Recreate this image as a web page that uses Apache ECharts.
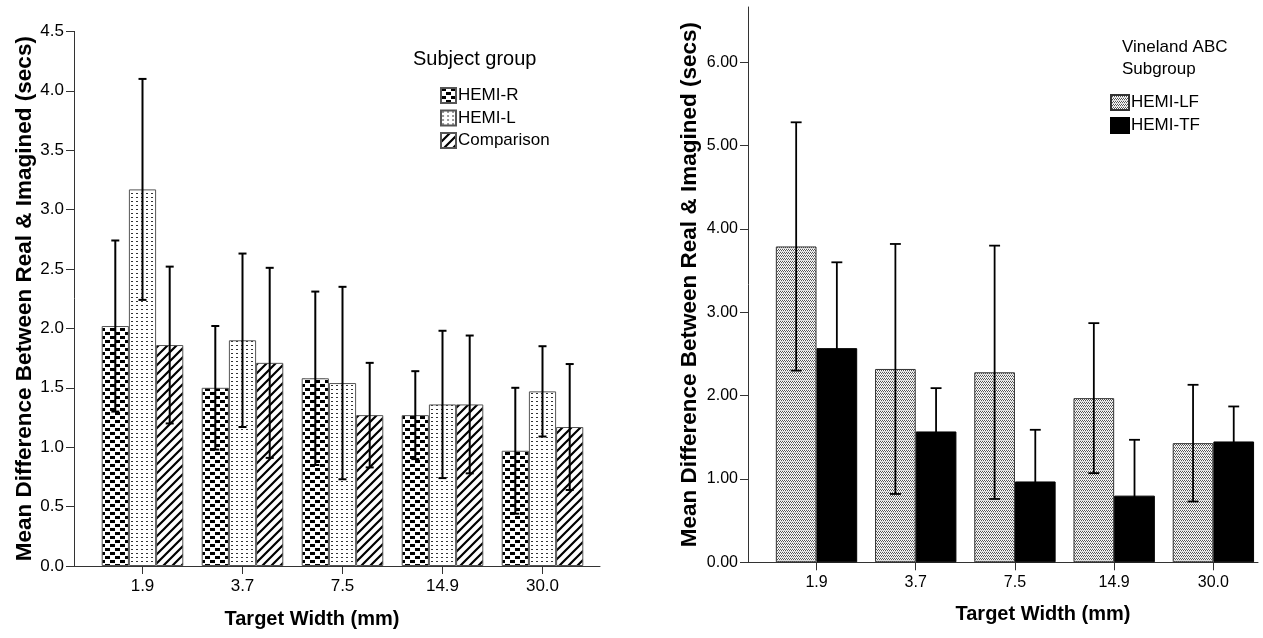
<!DOCTYPE html>
<html>
<head>
<meta charset="utf-8">
<script src="https://cdn.jsdelivr.net/npm/echarts@6/dist/echarts.min.js"></script>
<style>html,body{margin:0;padding:0;background:#fff}#c{width:1263px;height:638px}</style>
</head>
<body>
<div id="c"></div>
<script>
// ---- data ----
const categories = ['1.9', '3.7', '7.5', '14.9', '30.0'];
// Left panel: Subject group
const hemiR = [2.02, 1.50, 1.58, 1.27, 0.97];
const hemiRErr = [0.72, 0.52, 0.73, 0.37, 0.53];
const hemiL = [3.17, 1.90, 1.54, 1.36, 1.47];
const hemiLErr = [0.93, 0.73, 0.81, 0.62, 0.38];
const comparison = [1.86, 1.71, 1.27, 1.36, 1.17];
const comparisonErr = [0.66, 0.80, 0.44, 0.58, 0.53];
// Right panel: Vineland ABC Subgroup
const hemiLF = [3.79, 2.32, 2.28, 1.97, 1.43];
const hemiLFErr = [1.49, 1.50, 1.52, 0.90, 0.70];
const hemiTF = [2.57, 1.57, 0.97, 0.80, 1.45];
const hemiTFErr = [1.03, 0.52, 0.62, 0.67, 0.42];

const FONT = "'Liberation Sans', Arial, sans-serif";

// ---- patterns ----
function tile(w, h, draw) {
  const c = document.createElement('canvas');
  c.width = w; c.height = h;
  const g = c.getContext('2d');
  g.fillStyle = '#fff'; g.fillRect(0, 0, w, h);
  draw(g);
  return { image: c, repeat: 'repeat' };
}
const patChecker = tile(10, 8, g => {
  g.fillStyle = '#000';
  g.fillRect(0, 0, 5, 4); g.fillRect(5, 4, 5, 4);
  g.fillStyle = '#fff';
  g.fillRect(0, 3, 5, 1); g.fillRect(5, 7, 5, 1);
});
const patDots = tile(5, 4, g => {
  g.fillStyle = '#333'; g.fillRect(1, 1, 2, 1);
});
const patHatch = tile(9, 9, g => {
  g.strokeStyle = '#000'; g.lineWidth = 2.2;
  g.beginPath();
  g.moveTo(-1, 10); g.lineTo(10, -1);
  g.moveTo(-5, 5); g.lineTo(5, -5);
  g.moveTo(4, 14); g.lineTo(14, 4);
  g.stroke();
});
const patStipple = tile(4, 3, g => {
  g.fillStyle = '#555';
  g.fillRect(0, 0, 1, 1); g.fillRect(2, 0, 1, 1);
  g.fillRect(1, 1, 1, 1); g.fillRect(3, 1, 1, 1);
  g.fillStyle = '#ddd';
  g.fillRect(0, 2, 4, 1);
});

// ---- error bar custom series ----
function errSeries(xi, yi, means, errs, idx, n, frac, capFrac, lw) {
  return {
    type: 'custom', xAxisIndex: xi, yAxisIndex: yi, z: 10, silent: true,
    data: means.map((m, i) => [i, m, errs[i]]),
    renderItem: function (params, api) {
      const ci = api.value(0), m = api.value(1), e = api.value(2);
      const band = api.size([1, 0])[0];
      const off = (idx - (n - 1) / 2) * frac * band;
      const hi = api.coord([ci, m + e]);
      const lo = api.coord([ci, m - e]);
      const x = hi[0] + off;
      const cap = capFrac * band;
      const st = { stroke: '#000', lineWidth: lw };
      return {
        type: 'group', children: [
          { type: 'line', shape: { x1: x, y1: hi[1], x2: x, y2: lo[1] }, style: st },
          { type: 'line', shape: { x1: x - cap, y1: hi[1], x2: x + cap, y2: hi[1] }, style: st },
          { type: 'line', shape: { x1: x - cap, y1: lo[1], x2: x + cap, y2: lo[1] }, style: st }
        ]
      };
    }
  };
}

const axisCol = '#333';
const frameX = (gi) => ({
  gridIndex: gi, type: 'value', min: 0, max: 1,
  axisLine: { show: true, lineStyle: { color: axisCol, width: 1 } },
  axisTick: { show: false }, axisLabel: { show: false }, splitLine: { show: false }
});
const frameY = (gi, gap) => ({
  gridIndex: gi, type: 'value', min: 0, max: 1,
  axisLine: { show: true, lineStyle: { color: axisCol, width: 1 } },
  axisTick: { show: false }, axisLabel: { show: false }, splitLine: { show: false },
  name: 'Mean Difference Between Real & Imagined (secs)',
  nameLocation: 'middle', nameGap: gap,
  nameTextStyle: { fontFamily: FONT, fontWeight: 'bold', fontSize: 22.5, color: '#000' }
});
const catX = (gi, fs) => ({
  gridIndex: gi, type: 'category', data: categories,
  axisLine: { show: false },
  axisTick: { show: true, alignWithLabel: true, length: 8, lineStyle: { color: axisCol } },
  axisLabel: { fontFamily: FONT, fontSize: fs, color: '#000', margin: 12 },
  splitLine: { show: false }
});
const valY = (gi, max, interval, dec, offset, fs) => ({
  gridIndex: gi, type: 'value', min: 0, max: max, interval: interval, offset: offset,
  axisLine: { show: false },
  axisTick: { show: true, length: 8, lineStyle: { color: axisCol } },
  axisLabel: { fontFamily: FONT, fontSize: fs, color: '#000', margin: 10, formatter: v => v.toFixed(dec) },
  splitLine: { show: false }
});

const leftBar = (name, data, pat) => ({
  type: 'bar', name: name, xAxisIndex: 1, yAxisIndex: 1, data: data,
  barWidth: '27.2%', barGap: '0%',
  itemStyle: { color: pat, borderColor: '#555', borderWidth: 1 }
});
const rightBar = (name, data, col, bc) => ({
  type: 'bar', name: name, xAxisIndex: 3, yAxisIndex: 3, data: data,
  barWidth: '41%', barGap: '0%',
  itemStyle: { color: col, borderColor: bc, borderWidth: 1 }
});

const option = {
  animation: false,
  backgroundColor: '#fff',
  textStyle: { fontFamily: FONT },
  grid: [
    { left: 74, top: 31.4, width: 526, height: 534.6 },
    { left: 92.5, top: 31.4, width: 500, height: 534.6 },
    { left: 748, top: 7, width: 510, height: 555.3 },
    { left: 766.9, top: 62.3, width: 498.5, height: 500 }
  ],
  xAxis: [frameX(0), catX(1, 17), frameX(2), catX(3, 16)],
  yAxis: [frameY(0, 38), valY(1, 4.5, 0.5, 1, 18.5, 17), frameY(2, 47), valY(3, 6, 1, 2, 18.9, 16)],
  title: [
    { text: 'Target Width (mm)', left: 307, top: 604, textAlign: 'center',
      textStyle: { fontFamily: FONT, fontWeight: 'bold', fontSize: 20, color: '#000' } },
    { text: 'Target Width (mm)', left: 1038, top: 599, textAlign: 'center',
      textStyle: { fontFamily: FONT, fontWeight: 'bold', fontSize: 20, color: '#000' } },
    { text: 'Subject group', left: 408, top: 44,
      textStyle: { fontFamily: FONT, fontWeight: 'normal', fontSize: 20, color: '#000' } },
    { text: 'Vineland ABC\nSubgroup', left: 1117, top: 31,
      textStyle: { fontFamily: FONT, fontWeight: 'normal', fontSize: 17, lineHeight: 22, color: '#000' } }
  ],
  legend: [
    { data: ['HEMI-R', 'HEMI-L', 'Comparison'], orient: 'vertical', left: 435, top: 82,
      icon: 'rect', itemWidth: 15, itemHeight: 15, itemGap: 5.5,
      textStyle: { fontFamily: FONT, fontSize: 17, color: '#000', padding: [0, 0, 0, -3] } },
    { data: ['HEMI-LF', 'HEMI-TF'], orient: 'vertical', left: 1105, top: 89,
      icon: 'rect', itemWidth: 18, itemHeight: 15, itemGap: 6,
      textStyle: { fontFamily: FONT, fontSize: 17, color: '#000', padding: [0, 0, 0, -3] } }
  ],
  series: [
    leftBar('HEMI-R', hemiR, patChecker),
    leftBar('HEMI-L', hemiL, patDots),
    leftBar('Comparison', comparison, patHatch),
    errSeries(1, 1, hemiR, hemiRErr, 0, 3, 0.272, 0.04, 2),
    errSeries(1, 1, hemiL, hemiLErr, 1, 3, 0.272, 0.04, 2),
    errSeries(1, 1, comparison, comparisonErr, 2, 3, 0.272, 0.04, 2),
    rightBar('HEMI-LF', hemiLF, patStipple, '#333'),
    rightBar('HEMI-TF', hemiTF, '#000', '#000'),
    errSeries(3, 3, hemiLF, hemiLFErr, 0, 2, 0.41, 0.055, 1.8),
    errSeries(3, 3, hemiTF, hemiTFErr, 1, 2, 0.41, 0.055, 1.8)
  ]
};
const chart = echarts.init(document.getElementById('c'));
chart.setOption(option);
</script>
</body>
</html>
